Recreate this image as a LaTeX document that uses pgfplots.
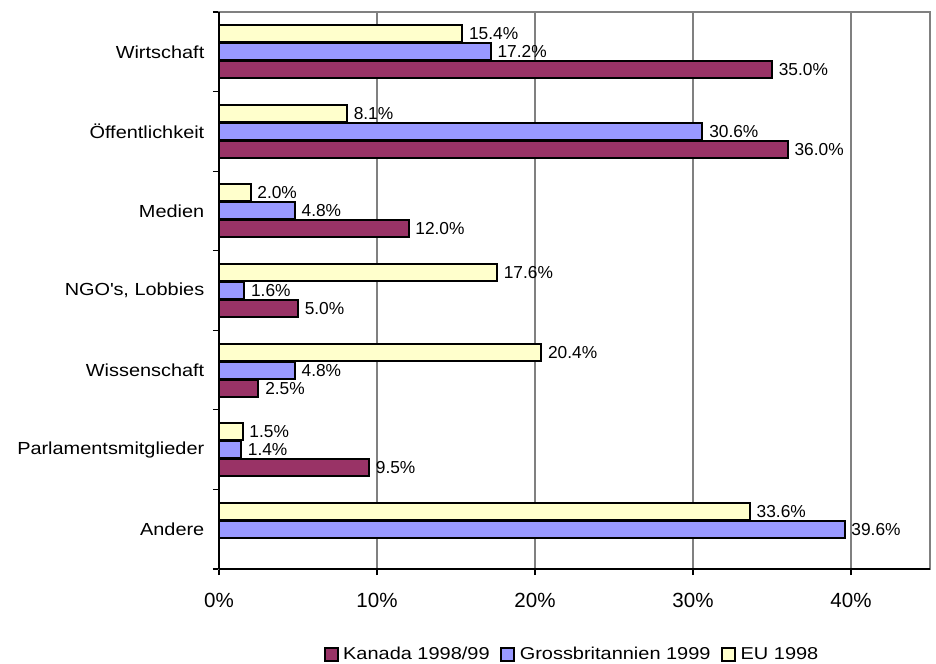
\documentclass[border=0pt]{standalone}
\usepackage{fontspec}
\setmainfont{Liberation Sans}
\newfontfamily\labfont[FakeStretch=1.14]{Liberation Sans}
\newfontfamily\legfont[FakeStretch=1.16]{Liberation Sans}
\usepackage{pgfplots}
\pgfplotsset{compat=1.18}
\definecolor{kan}{HTML}{993366}
\definecolor{gb}{HTML}{9999FF}
\definecolor{eu}{HTML}{FFFFCC}
\definecolor{gridgray}{HTML}{808080}
\begin{document}
\begin{tikzpicture}
\useasboundingbox (0,0) rectangle (702pt,498pt);
\begin{axis}[
  at={(164.25pt,71.25pt)}, anchor=south west,
  scale only axis, width=533.25pt, height=417.75pt,
  xbar, bar width=12.75pt,
  xmin=0, xmax=45, ymin=-0.5, ymax=6.5, y dir=reverse,
  /pgf/number format/assume math mode=true,
  axis line style={draw=gridgray, line width=0.8pt},
  tick pos=left, tick align=outside,
  major tick length=4.5pt,
  tick style={black, line width=0.8pt},
  xtick={0,10,20,30,40},
  xticklabels={0\%,10\%,20\%,30\%,40\%},
  xticklabel style={font=\fontsize{15.4pt}{18pt}\selectfont, yshift=-10pt},
  xmajorgrids, grid style={gridgray, line width=0.8pt},
  ytick={-0.5,0.5,...,6.5}, yticklabels={},
  extra y ticks={0,1,2,3,4,5,6},
  extra y tick labels={Wirtschaft,Öffentlichkeit,Medien,{NGO\textquotesingle s, Lobbies},Wissenschaft,Parlamentsmitglieder,Andere},
  extra y tick style={major tick length=0pt, tick label style={font=\labfont\fontsize{13.1pt}{16pt}\selectfont, xshift=-7.5pt}},
  nodes near coords={\pgfmathprintnumber[fixed,fixed zerofill,precision=1]{\pgfplotspointmeta}\%},
  nodes near coords style={font=\fontsize{13pt}{15pt}\selectfont, xshift=1pt},
  every axis plot/.append style={draw=black, line width=1.5pt},
  legend columns=3,
  legend style={at={(0.497,-0.1535)}, anchor=center, draw=none, fill=none,
    font=\legfont\fontsize{12.9pt}{15pt}\selectfont,
    /tikz/every odd column/.style={column sep=1.5pt},
    /tikz/every even column/.style={column sep=6pt}},
  legend image code/.code={\draw[#1, line width=1.5pt, draw=black] (0pt,-4.8pt) rectangle (9.6pt,4.8pt);},
  clip=false,
]
\addplot[fill=kan, bar shift=-13.5pt] coordinates {(35.0,0) (36.0,1) (12.0,2) (5.0,3) (2.5,4) (9.5,5)};
\addplot[fill=gb, bar shift=0pt] coordinates {(17.2,0) (30.6,1) (4.8,2) (1.6,3) (4.8,4) (1.4,5) (39.6,6)};
\addplot[fill=eu, bar shift=13.5pt] coordinates {(15.4,0) (8.1,1) (2.0,2) (17.6,3) (20.4,4) (1.5,5) (33.6,6)};
\legend{Kanada 1998/99,Grossbritannien 1999,EU 1998}
\draw[black, line width=1pt] (rel axis cs:0,0) -- (rel axis cs:0,1);
\draw[black, line width=1pt] (rel axis cs:0,0) -- (rel axis cs:1,0);
\end{axis}
\end{tikzpicture}
\end{document}
